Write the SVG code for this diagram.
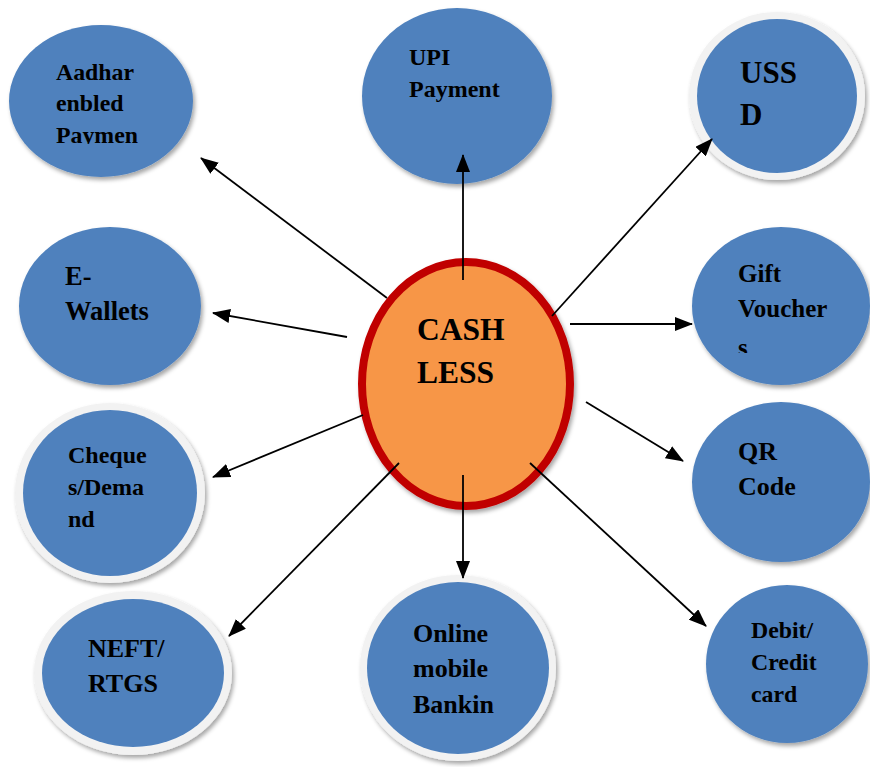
<svg xmlns="http://www.w3.org/2000/svg" width="870" height="767" viewBox="0 0 870 767">
<style>
.node{fill:#4f81bd;filter:url(#sh)}
.ring{fill:#f2f2f2;filter:url(#sh)}
.t{font-family:"Liberation Serif","Times New Roman",serif;font-weight:bold;fill:#000}
.c{stroke:#000;stroke-width:1.8;fill:none;marker-end:url(#ah)}
</style>
<defs>
<filter id="sh" x="-20%" y="-20%" width="140%" height="140%">
<feDropShadow dx="2" dy="3" stdDeviation="2" flood-color="#000" flood-opacity="0.35"/>
</filter>
<marker id="ah" viewBox="0 0 18 14" refX="17" refY="7" markerWidth="18" markerHeight="14" markerUnits="userSpaceOnUse" orient="auto">
<path d="M0,0 L18,7 L0,14 z" fill="#000"/>
</marker>
<clipPath id="clipA"><rect x="0" y="0" width="300" height="144"/></clipPath>
<clipPath id="clipG"><rect x="600" y="200" width="270" height="153"/></clipPath>
</defs>
<rect width="870" height="767" fill="#fff"/>

<g id="center">
<ellipse cx="466" cy="384" rx="104" ry="122" fill="#f79646" stroke="#c00000" stroke-width="8" filter="url(#sh)"/>
<text class="t" font-size="31.5" x="417" y="340">CASH</text>
<text class="t" font-size="31.5" x="417" y="383">LESS</text>
</g>

<g id="aadhar">
<ellipse class="node" cx="101" cy="101" rx="92" ry="76"/>
<g clip-path="url(#clipA)">
<text class="t" font-size="23.8" x="56" y="80">Aadhar</text>
<text class="t" font-size="23.8" x="56" y="111">enbled</text>
<text class="t" font-size="23.8" x="56" y="143">Paymen</text>
</g>
</g>

<g id="upi">
<ellipse class="node" cx="457" cy="96" rx="95" ry="88"/>
<text class="t" font-size="24" x="409" y="65">UPI</text>
<text class="t" font-size="24" x="409" y="97">Payment</text>
</g>

<g id="ussd">
<ellipse class="ring" cx="777" cy="96" rx="88" ry="84"/>
<ellipse fill="#4f81bd" cx="777" cy="96" rx="80" ry="77"/>
<text class="t" font-size="31" x="740" y="83">USS</text>
<text class="t" font-size="31" x="740" y="125">D</text>
</g>

<g id="ewallets">
<ellipse class="node" cx="110" cy="306" rx="91" ry="79"/>
<text class="t" font-size="26.5" x="65" y="285">E-</text>
<text class="t" font-size="26.5" x="65" y="320">Wallets</text>
</g>

<g id="gift">
<ellipse class="node" cx="781" cy="306" rx="89" ry="79"/>
<g clip-path="url(#clipG)">
<text class="t" font-size="25" x="738" y="282">Gift</text>
<text class="t" font-size="25" x="738" y="317">Voucher</text>
<text class="t" font-size="25" x="738" y="356">s</text>
</g>
</g>

<g id="cheques">
<ellipse class="ring" cx="110" cy="493" rx="95" ry="90"/>
<ellipse fill="#4f81bd" cx="110" cy="493" rx="87" ry="83"/>
<text class="t" font-size="24" x="68" y="463">Cheque</text>
<text class="t" font-size="24" x="68" y="495">s/Dema</text>
<text class="t" font-size="24" x="68" y="527">nd</text>
</g>

<g id="qr">
<ellipse class="node" cx="781" cy="482" rx="89" ry="80"/>
<text class="t" font-size="26" x="738" y="460">QR</text>
<text class="t" font-size="26" x="738" y="495">Code</text>
</g>

<g id="neft">
<ellipse class="ring" cx="133" cy="673" rx="99" ry="82"/>
<ellipse fill="#4f81bd" cx="133" cy="673" rx="91" ry="74"/>
<text class="t" font-size="26" x="88" y="657">NEFT/</text>
<text class="t" font-size="26" x="88" y="692">RTGS</text>
</g>

<g id="online">
<ellipse class="ring" cx="458" cy="668" rx="98" ry="93"/>
<ellipse fill="#4f81bd" cx="458" cy="668" rx="91" ry="86"/>
<text class="t" font-size="26" x="413" y="642">Online</text>
<text class="t" font-size="26" x="413" y="677">mobile</text>
<text class="t" font-size="26" x="413" y="713">Bankin</text>
</g>

<g id="debit">
<ellipse class="node" cx="787" cy="664" rx="81" ry="79"/>
<text class="t" font-size="23.8" x="751" y="638">Debit/</text>
<text class="t" font-size="23.8" x="751" y="670">Credit</text>
<text class="t" font-size="23.8" x="751" y="702">card</text>
</g>

<g id="connectors">
<line class="c" x1="387" y1="298" x2="201" y2="158"/>
<line class="c" x1="463" y1="280" x2="463" y2="155"/>
<line class="c" x1="552" y1="316" x2="712" y2="139"/>
<line class="c" x1="347" y1="337" x2="213" y2="313"/>
<line class="c" x1="570" y1="324" x2="692" y2="324"/>
<line class="c" x1="586" y1="402" x2="683" y2="461"/>
<line class="c" x1="363" y1="415" x2="213" y2="477"/>
<line class="c" x1="399" y1="463" x2="229" y2="636"/>
<line class="c" x1="463" y1="475" x2="463" y2="578"/>
<line class="c" x1="530" y1="463" x2="706" y2="626"/>
</g>
</svg>
